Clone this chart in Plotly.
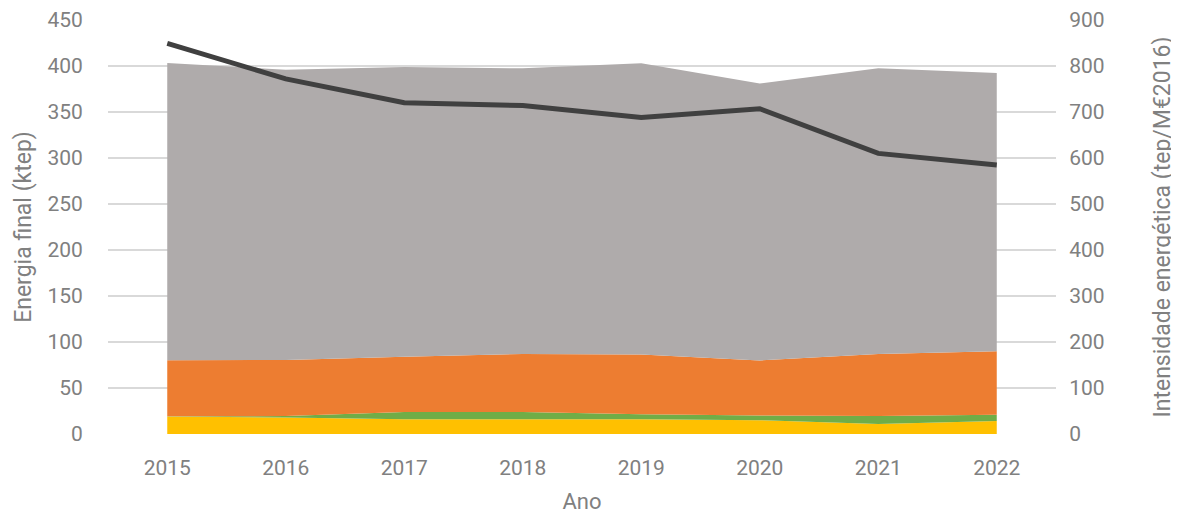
import plotly.graph_objects as go

anos = ["2015", "2016", "2017", "2018", "2019", "2020", "2021", "2022"]
amarelo = [19, 18, 16, 16, 16, 15, 11, 14]
verde = [0.2, 1.5, 8, 8, 5.5, 5, 8.5, 7]
laranja = [61, 61, 60, 63, 65, 60, 67.5, 69]
cinzento = [323, 315.5, 315, 310.5, 316.5, 301, 310.5, 302.5]
intensidade = [849, 772, 720, 714, 688, 707, 610, 585]

font_color = "#808080"
fam = "Roboto, DejaVu Sans, sans-serif"

fig = go.Figure()
for vals, col, name in [(amarelo, "#FFC000", "Amarelo"), (verde, "#70AD47", "Verde"),
                        (laranja, "#ED7D31", "Laranja"), (cinzento, "#AFABAB", "Cinzento")]:
    fig.add_trace(go.Scatter(x=anos, y=vals, name=name, stackgroup="one", mode="lines",
                             line=dict(width=0, color=col), fillcolor=col, hoverinfo="x+y"))

fig.add_trace(go.Scatter(x=anos, y=intensidade, name="Intensidade", yaxis="y2", mode="lines",
                         line=dict(color="#404040", width=5)))

fig.update_layout(
    width=1171, height=506,
    margin=dict(l=100, r=123, t=12, b=80),
    plot_bgcolor="white", paper_bgcolor="white",
    showlegend=False,
    font=dict(family=fam, size=21, color=font_color),
    xaxis=dict(type="category", range=[-0.5, 7.5], showgrid=False, showline=False, zeroline=False,
               ticks="outside", ticklen=15, tickcolor="rgba(0,0,0,0)", automargin=False,
               title=dict(text="Ano", font=dict(size=22, color=font_color), standoff=16)),
    yaxis=dict(range=[0, 450], dtick=50, showgrid=True, gridcolor="#d9d9d9", gridwidth=1.5,
               zeroline=False, showline=False, ticks="outside", ticklen=20, tickcolor="rgba(0,0,0,0)",
               automargin=False,
               title=dict(text="Energia final (ktep)", font=dict(size=23, color=font_color), standoff=9)),
    yaxis2=dict(range=[0, 900], dtick=100, overlaying="y", side="right", showgrid=False,
                zeroline=False, showline=False, ticks="outside", ticklen=8, tickcolor="rgba(0,0,0,0)",
                automargin=False,
                title=dict(text="Intensidade energética (tep/M€2016)", font=dict(size=23, color=font_color), standoff=50)),
)

fig.write_html("out.html")
